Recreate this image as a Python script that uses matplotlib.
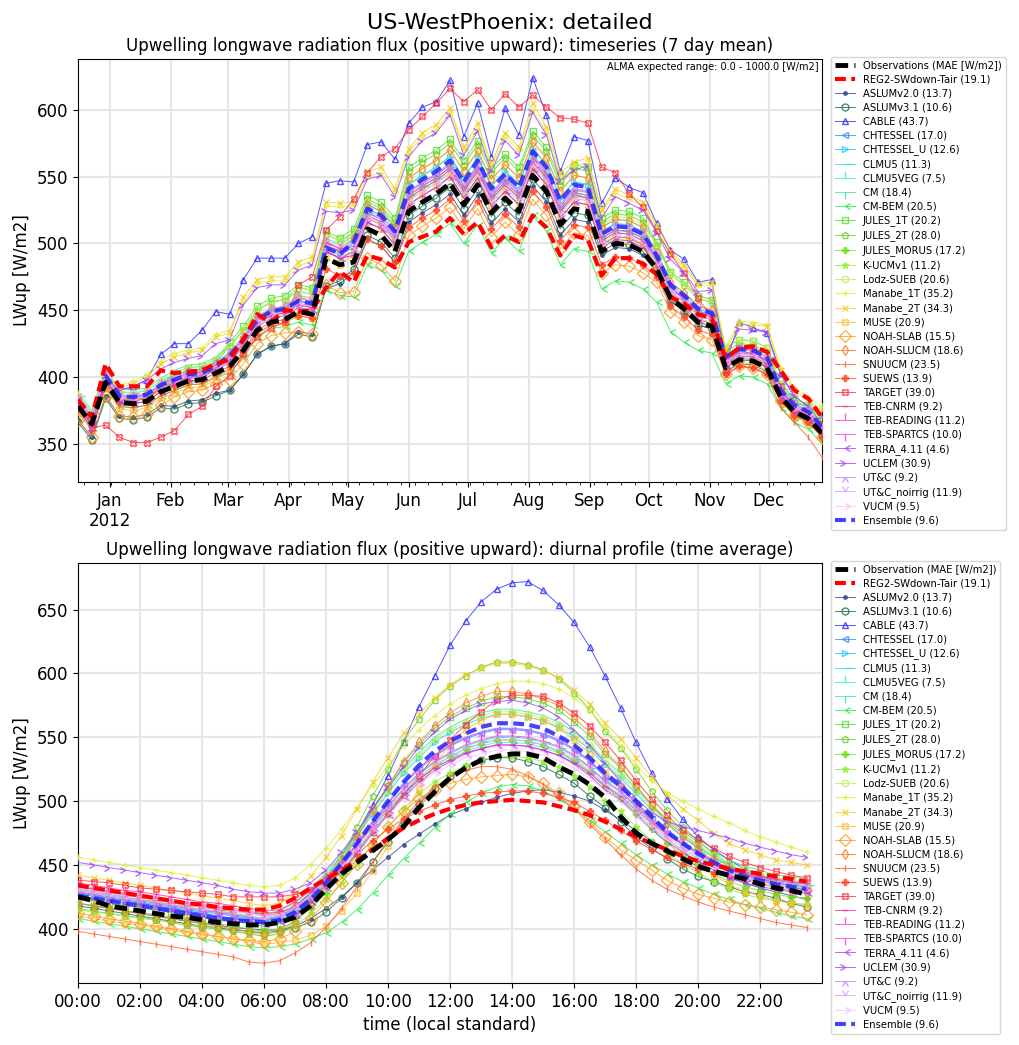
import numpy as np
import matplotlib
matplotlib.use('Agg')
import matplotlib.pyplot as plt
import matplotlib.dates as mdates
from matplotlib.ticker import FuncFormatter, MultipleLocator

# ---------------- data: 7 day mean timeseries ----------------
week_start = np.datetime64('2011-12-16')
n_weeks = 55
dates = week_start + np.arange(n_weeks) * np.timedelta64(7, 'D')

obs_ts = [378, 365, 396, 381, 380, 382, 389, 393, 397, 398, 403, 408, 420, 435, 441, 443, 449, 447, 489, 484,
          486, 511, 506, 494, 524, 531, 537, 545, 529, 544, 523, 534, 524, 551, 539, 514, 526, 524, 494, 500,
          499, 494, 481, 459, 451, 441, 438, 407, 413, 412, 407, 385, 374, 369, 358]
reg2_ts = [383, 370, 410, 393, 393, 393, 405, 403, 404, 405, 410, 413, 428, 447, 441, 450, 449, 450, 467, 479,
           471, 491, 488, 482, 501, 505, 509, 519, 507, 516, 497, 506, 501, 521, 512, 491, 506, 503, 476, 489,
           489, 485, 477, 460, 455, 447, 444, 414, 422, 423, 419, 405, 390, 384, 370]
ens_ts = [383, 370, 401, 386, 385, 387, 394, 398, 402, 403, 408, 416, 428, 443, 449, 451, 457, 455, 497, 492,
          501, 526, 521, 509, 541, 548, 554, 562, 546, 562, 541, 552, 542, 569, 557, 532, 544, 542, 507, 513,
          512, 507, 491, 469, 461, 451, 448, 415, 421, 420, 415, 390, 379, 374, 363]

aslum20_ts = [368, 355, 386, 371, 370, 372, 379, 378, 382, 383, 388, 390, 402, 417, 423, 425, 434, 432, 466, 470,
              478, 503, 498, 486, 516, 523, 529, 537, 521, 536, 515, 526, 516, 543, 531, 506, 518, 516, 491, 497,
              496, 491, 479, 457, 449, 439, 436, 407, 413, 412, 407, 385, 374, 369, 358]
aslum31_ts = [366, 353, 384, 369, 368, 370, 377, 376, 380, 381, 386, 390, 402, 417, 423, 425, 432, 430, 468, 472,
              481, 506, 501, 489, 521, 528, 534, 542, 526, 541, 520, 531, 521, 548, 536, 511, 523, 521, 494, 500,
              499, 494, 479, 457, 449, 439, 436, 404, 410, 409, 404, 383, 372, 367, 356]
cable_ts = [382, 365, 400, 390, 393, 398, 417, 425, 425, 435, 449, 447, 473, 489, 489, 489, 500, 505, 545, 547,
            546, 574, 576, 563, 590, 602, 606, 622, 580, 605, 565, 601, 581, 624, 596, 554, 580, 577, 530, 549,
            542, 538, 515, 495, 488, 471, 473, 410, 441, 437, 433, 403, 385, 378, 365]
chtessel_ts = [383, 370, 401, 386, 385, 387, 394, 401, 405, 406, 411, 418, 430, 445, 451, 453, 457, 455, 497, 492,
               501, 526, 521, 509, 539, 546, 552, 560, 544, 559, 538, 549, 539, 566, 554, 529, 541, 539, 504, 510,
               509, 504, 489, 467, 459, 449, 446, 415, 421, 420, 415, 391, 380, 375, 364]
chtessel_u_ts = [381, 368, 399, 384, 383, 385, 392, 398, 402, 403, 408, 416, 428, 443, 449, 451, 457, 455, 497, 492,
                 504, 529, 524, 512, 544, 551, 557, 565, 549, 564, 543, 554, 544, 571, 559, 534, 546, 544, 509, 515,
                 514, 509, 491, 469, 461, 451, 448, 413, 419, 418, 413, 389, 378, 373, 362]
clmu5_ts = [386, 373, 404, 389, 388, 390, 397, 401, 405, 406, 411, 418, 430, 445, 451, 453, 459, 457, 499, 494,
            498, 523, 518, 506, 536, 543, 549, 557, 541, 556, 535, 546, 536, 561, 549, 524, 536, 534, 502, 508,
            507, 502, 489, 467, 459, 449, 446, 415, 421, 420, 415, 391, 380, 375, 364]
clmu5veg_ts = [381, 368, 399, 384, 383, 385, 392, 396, 400, 401, 406, 413, 425, 440, 446, 448, 454, 452, 494, 489,
               494, 519, 514, 502, 532, 539, 545, 553, 537, 552, 531, 542, 532, 559, 547, 522, 534, 532, 499, 505,
               504, 499, 486, 464, 456, 446, 443, 411, 417, 416, 411, 388, 377, 372, 361]
cm_ts = [388, 375, 406, 391, 390, 392, 399, 405, 409, 410, 415, 423, 435, 450, 456, 458, 464, 462, 504, 499,
         506, 531, 526, 514, 544, 551, 557, 565, 549, 564, 543, 554, 544, 571, 559, 534, 546, 544, 512, 518,
         517, 512, 493, 471, 463, 453, 450, 417, 423, 422, 417, 393, 382, 377, 366]
cmbem_ts = [375, 362, 393, 378, 377, 379, 386, 390, 394, 395, 400, 403, 415, 430, 436, 438, 441, 439, 465, 461,
            460, 484, 480, 468, 494, 501, 507, 515, 500, 514, 493, 504, 494, 521, 509, 484, 496, 494, 466, 472,
            471, 466, 456, 434, 426, 420, 418, 395, 401, 400, 395, 377, 366, 361, 350]
jules1t_ts = [383, 370, 401, 386, 385, 387, 394, 403, 407, 408, 413, 426, 438, 453, 459, 461, 469, 467, 509, 504,
              511, 536, 531, 519, 557, 564, 570, 578, 562, 577, 556, 567, 557, 584, 572, 547, 559, 557, 519, 525,
              524, 519, 501, 479, 471, 461, 458, 422, 428, 427, 422, 395, 384, 379, 368]
jules2t_ts = [383, 370, 401, 386, 385, 387, 394, 401, 405, 406, 411, 423, 435, 450, 456, 458, 467, 465, 507, 502,
              508, 533, 528, 516, 554, 561, 567, 575, 559, 574, 553, 564, 554, 581, 569, 544, 556, 554, 516, 522,
              521, 516, 499, 477, 469, 459, 456, 419, 425, 424, 419, 393, 382, 377, 366]
julesmorus_ts = [381, 368, 399, 384, 383, 385, 392, 398, 402, 403, 408, 416, 428, 443, 449, 451, 459, 457, 499, 494,
                 496, 521, 516, 504, 536, 543, 549, 557, 541, 556, 535, 546, 536, 563, 551, 526, 538, 536, 504, 510,
                 509, 504, 489, 467, 459, 449, 446, 412, 418, 417, 412, 388, 377, 372, 361]
kucm_ts = [380, 367, 398, 383, 382, 384, 391, 396, 400, 401, 406, 413, 425, 440, 446, 448, 454, 452, 494, 489,
           494, 519, 514, 502, 534, 541, 547, 555, 539, 554, 533, 544, 534, 561, 549, 524, 536, 534, 499, 505,
           504, 499, 484, 462, 454, 444, 441, 409, 415, 414, 409, 385, 374, 369, 358]
lodz_ts = [386, 373, 404, 389, 388, 390, 397, 403, 407, 408, 413, 423, 435, 450, 456, 458, 467, 465, 507, 502,
           506, 531, 526, 514, 549, 556, 562, 570, 554, 569, 548, 559, 549, 576, 564, 539, 551, 549, 514, 520,
           519, 514, 499, 477, 469, 459, 456, 422, 428, 427, 422, 395, 384, 379, 368]
manabe1t_ts = [388, 362, 402, 394, 397, 402, 412, 418, 420, 422, 432, 435, 456, 470, 472, 472, 483, 487, 528, 527,
               528, 550, 553, 538, 568, 580, 585, 598, 570, 586, 557, 580, 569, 600, 583, 550, 558, 560, 524, 538,
               533, 528, 511, 492, 482, 468, 469, 422, 442, 441, 439, 407, 392, 385, 378]
manabe2t_ts = [385, 360, 400, 392, 395, 400, 410, 415, 418, 420, 430, 433, 460, 473, 475, 475, 486, 490, 531, 530,
               531, 554, 557, 541, 571, 583, 589, 601, 572, 590, 560, 583, 572, 605, 587, 553, 561, 564, 525, 541,
               536, 531, 514, 494, 484, 470, 471, 420, 440, 439, 438, 405, 390, 382, 375]
muse_ts = [373, 360, 391, 376, 375, 377, 384, 388, 392, 393, 398, 405, 417, 432, 438, 440, 446, 444, 489, 484,
           491, 516, 511, 499, 529, 536, 542, 550, 534, 549, 528, 539, 529, 556, 544, 519, 531, 529, 497, 503,
           502, 497, 481, 459, 451, 441, 438, 405, 411, 410, 405, 382, 371, 366, 355]
noahslab_ts = [368, 355, 386, 371, 370, 372, 379, 385, 389, 390, 395, 398, 410, 425, 431, 433, 434, 432, 469, 463,
               464, 489, 484, 472, 506, 513, 519, 527, 511, 526, 505, 516, 506, 533, 521, 496, 508, 506, 478, 484,
               483, 478, 471, 449, 441, 431, 428, 402, 408, 407, 402, 382, 371, 366, 355]
noahslucm_ts = [381, 368, 399, 384, 383, 385, 392, 398, 402, 403, 408, 418, 430, 445, 451, 453, 461, 459, 501, 496,
                504, 529, 524, 512, 549, 556, 562, 570, 554, 569, 548, 559, 549, 576, 564, 539, 551, 549, 512, 518,
                517, 512, 493, 471, 463, 453, 450, 415, 421, 420, 415, 390, 379, 374, 363]
snuucm_ts = [375, 362, 393, 378, 377, 379, 386, 390, 394, 395, 400, 406, 418, 433, 439, 441, 449, 447, 494, 489,
             491, 516, 511, 499, 529, 536, 542, 550, 534, 549, 528, 539, 529, 556, 544, 519, 531, 529, 499, 505,
             504, 499, 481, 459, 451, 441, 438, 402, 408, 407, 402, 377, 366, 355, 340]
suews_ts = [378, 365, 396, 381, 380, 382, 389, 393, 397, 398, 403, 408, 420, 435, 441, 443, 446, 444, 481, 476,
            478, 503, 498, 486, 512, 519, 525, 533, 517, 532, 511, 522, 512, 539, 527, 502, 514, 512, 484, 490,
            489, 484, 475, 453, 445, 435, 432, 402, 408, 407, 402, 382, 371, 366, 355]
target_ts = [383, 362, 364, 355, 351, 351, 355, 360, 372, 378, 393, 401, 417, 430, 437, 441, 469, 475, 510, 520,
             533, 553, 565, 571, 585, 595, 605, 616, 606, 615, 600, 612, 602, 611, 602, 594, 593, 590, 557, 553,
             537, 527, 509, 492, 478, 459, 445, 405, 422, 420, 410, 393, 375, 372, 365]
tebcnrm_ts = [380, 367, 398, 383, 382, 384, 391, 396, 400, 401, 406, 413, 425, 440, 446, 448, 454, 452, 494, 489,
              494, 519, 514, 502, 534, 541, 547, 555, 539, 554, 533, 544, 534, 561, 549, 524, 536, 534, 502, 508,
              507, 502, 486, 464, 456, 446, 443, 410, 416, 415, 410, 387, 376, 371, 360]
tebreading_ts = [382, 369, 400, 385, 384, 386, 393, 398, 402, 403, 408, 414, 426, 441, 447, 449, 455, 453, 499, 494,
                 496, 521, 516, 504, 536, 543, 549, 557, 541, 556, 535, 546, 536, 563, 551, 526, 538, 536, 504, 510,
                 509, 504, 488, 466, 458, 448, 445, 412, 418, 417, 412, 388, 377, 372, 361]
tebspartcs_ts = [383, 370, 401, 386, 385, 387, 394, 399, 403, 404, 409, 416, 428, 443, 449, 451, 457, 455, 501, 496,
                 498, 523, 518, 506, 538, 545, 551, 559, 543, 558, 537, 548, 538, 565, 553, 528, 540, 538, 506, 512,
                 511, 506, 489, 467, 459, 449, 446, 413, 419, 418, 413, 389, 378, 373, 362]
terra_ts = [378, 365, 396, 381, 380, 382, 389, 395, 399, 400, 405, 411, 423, 438, 444, 446, 452, 450, 494, 489,
            491, 516, 511, 499, 529, 536, 542, 550, 534, 549, 528, 539, 529, 556, 544, 519, 531, 529, 497, 503,
            502, 497, 483, 461, 453, 443, 440, 408, 414, 413, 408, 385, 374, 369, 358]
uclem_ts = [383, 358, 398, 390, 393, 398, 406, 411, 414, 416, 425, 428, 454, 467, 469, 469, 480, 484, 524, 523,
            525, 548, 551, 535, 565, 577, 583, 596, 566, 584, 554, 577, 566, 598, 581, 547, 555, 558, 519, 535,
            530, 525, 508, 488, 478, 464, 465, 416, 436, 435, 434, 401, 386, 378, 371]
utc_ts = [383, 370, 401, 386, 385, 387, 394, 399, 403, 404, 409, 416, 428, 443, 449, 451, 457, 455, 499, 494,
          496, 521, 516, 504, 536, 543, 549, 557, 541, 556, 535, 546, 536, 563, 551, 526, 538, 536, 504, 510,
          509, 504, 489, 467, 459, 449, 446, 413, 419, 418, 413, 390, 379, 374, 363]
utcnoirr_ts = [384, 371, 402, 387, 386, 388, 395, 400, 404, 405, 410, 418, 430, 445, 451, 453, 459, 457, 502, 497,
               499, 524, 519, 507, 539, 546, 552, 560, 544, 559, 538, 549, 539, 566, 554, 529, 541, 539, 506, 512,
               511, 506, 491, 469, 461, 451, 448, 415, 421, 420, 415, 391, 380, 375, 364]
vucm_ts = [382, 369, 400, 385, 384, 386, 393, 398, 402, 403, 408, 414, 426, 441, 447, 449, 455, 453, 497, 492,
           494, 519, 514, 502, 532, 539, 545, 553, 537, 552, 531, 542, 532, 559, 547, 522, 534, 532, 500, 506,
           505, 500, 486, 464, 456, 446, 443, 411, 417, 416, 411, 388, 377, 372, 361]

# ---------------- data: diurnal profile (half-hourly) ----------------
hours = np.arange(48) * 0.5

obs_dp = [425, 422, 418, 416, 414, 412, 410, 409, 407, 405, 404, 403, 403, 405, 409, 418, 431, 443, 452, 461,
          470, 480, 495, 507, 518, 526, 532, 535, 537, 537, 534, 527, 521, 513, 503, 488, 475, 467, 461, 455,
          449, 445, 442, 439, 435, 432, 430, 427]
reg2_dp = [434, 432, 430, 428, 426, 424, 422, 420, 419, 417, 416, 415, 415, 418, 424, 432, 439, 446, 453, 462,
           471, 479, 485, 490, 494, 497, 499, 500, 501, 500, 499, 496, 493, 489, 484, 478, 472, 467, 462, 457,
           453, 450, 447, 445, 443, 441, 439, 437]
ens_dp = [426, 424, 422, 420, 418, 416, 414, 412, 410, 408, 407, 406, 405, 407, 413, 423, 436, 451, 467, 484,
          500, 515, 528, 539, 547, 553, 558, 561, 561, 560, 557, 551, 544, 534, 522, 512, 500, 488, 476, 467,
          459, 452, 446, 441, 438, 435, 433, 431]

aslum20_dp = [420, 418, 416, 414, 412, 410, 408, 406, 404, 403, 401, 400, 399, 399, 402, 408, 416, 425, 436, 446,
              456, 466, 474, 482, 489, 494, 499, 503, 506, 508, 509, 507, 504, 500, 493, 485, 477, 469, 462, 455,
              449, 444, 440, 436, 432, 429, 426, 423]
aslum31_dp = [418, 416, 414, 412, 410, 408, 406, 404, 402, 401, 399, 398, 397, 398, 401, 405, 413, 424, 436, 452,
              468, 484, 498, 510, 520, 527, 532, 534, 534, 531, 527, 521, 514, 504, 495, 484, 472, 463, 455, 447,
              441, 437, 433, 429, 427, 424, 420, 417]
cable_dp = [428, 426, 424, 422, 420, 418, 416, 414, 412, 410, 408, 407, 407, 410, 417, 428, 441, 457, 475, 497,
            520, 546, 574, 598, 622, 641, 656, 666, 671, 672, 665, 654, 640, 621, 598, 573, 546, 522, 502, 486,
            472, 462, 454, 447, 442, 437, 433, 430]
chtessel_dp = [428, 426, 424, 422, 421, 419, 417, 415, 413, 412, 410, 408, 406,
               408, 414, 424, 436, 450, 466, 483, 498, 513, 525, 535, 543, 549, 553, 556, 556, 555, 552, 547, 540,
               531, 519, 510, 498, 486, 475, 466, 459, 451, 445, 441, 438, 435, 433, 432]
chtessel_u_dp = [430, 428, 426, 424, 423, 421, 419, 417, 415, 414, 412, 410, 408,
                 410, 416, 427, 440, 454, 472, 490, 506, 522, 534, 546, 554, 560, 565, 568, 568, 566, 563, 558, 550,
                 541, 528, 518, 506, 493, 482, 472, 464, 456, 450, 445, 442, 438, 437, 435]
clmu5_dp = [432, 430, 428, 426, 425, 423, 421, 419, 417, 416, 414, 412, 410,
            411, 417, 427, 438, 451, 466, 481, 495, 509, 521, 530, 537, 543, 547, 550, 550, 549, 546, 542, 535,
            526, 515, 507, 495, 484, 474, 466, 459, 452, 446, 442, 439, 437, 435, 434]
clmu5veg_dp = [428, 426, 424, 422, 421, 419, 417, 415, 413, 412, 410, 408, 406,
               407, 413, 423, 434, 447, 462, 477, 491, 505, 517, 526, 533, 539, 543, 546, 546, 545, 542, 538, 531,
               522, 511, 503, 491, 480, 470, 462, 455, 448, 442, 438, 435, 433, 431, 430]
cm_dp = [434, 432, 430, 428, 427, 425, 423, 421, 419, 418, 416, 414, 412,
         414, 420, 431, 444, 458, 476, 494, 510, 526, 538, 550, 558, 564, 569, 572, 572, 570, 567, 562, 554,
         545, 532, 522, 510, 497, 486, 476, 468, 460, 454, 449, 446, 442, 441, 439]
cmbem_dp = [408, 406, 404, 402, 400, 398, 396, 394, 392, 390, 388, 386, 385, 386, 388, 392, 397, 405, 415, 428,
            442, 455, 467, 479, 490, 499, 506, 511, 513, 512, 508, 502, 494, 485, 476, 467, 458, 450, 443, 437,
            432, 427, 423, 419, 416, 413, 410, 408]
jules1t_dp = [424, 422, 420, 418, 417, 415, 413, 411, 409, 408, 406, 404, 402,
              404, 411, 424, 438, 454, 474, 494, 512, 530, 544, 557, 566, 573, 578, 582, 582, 580, 577, 571, 562,
              551, 537, 526, 512, 497, 485, 474, 465, 456, 449, 443, 440, 436, 434, 433]
jules2t_dp = [416, 414, 412, 410, 409, 407, 405, 403, 401, 400, 398, 396, 394,
              396, 405, 420, 437, 456, 480, 504, 525, 547, 564, 579, 590, 598, 605, 609, 609, 607, 603, 596, 585,
              572, 555, 542, 525, 508, 493, 480, 469, 459, 450, 443, 439, 435, 433, 431]
julesmorus_dp = [420, 418, 416, 414, 413, 411, 409, 407, 405, 404, 402, 400, 398,
                 400, 406, 416, 428, 442, 458, 475, 490, 505, 517, 527, 535, 541, 545, 548, 548, 547, 544, 539, 532,
                 523, 511, 502, 490, 478, 467, 458, 451, 443, 437, 433, 430, 427, 425, 424]
kucm_dp = [415, 413, 412, 410, 408, 407, 405, 403, 402, 400, 398, 397, 395,
           396, 402, 412, 423, 436, 451, 466, 480, 494, 506, 515, 522, 528, 532, 535, 535, 534, 531, 527, 520,
           511, 500, 492, 480, 469, 459, 451, 444, 437, 431, 427, 424, 422, 420, 419]
lodz_dp = [430, 428, 427, 425, 423, 422, 420, 418, 417, 415, 413, 412, 410,
           412, 418, 429, 442, 456, 474, 492, 508, 524, 536, 548, 556, 562, 567, 570, 570, 568, 565, 560, 552,
           543, 530, 520, 508, 495, 484, 474, 466, 458, 452, 447, 444, 440, 439, 437]
manabe1t_dp = [456, 454, 452, 450, 448, 446, 444, 442, 440, 438, 436, 434, 433, 434, 440, 450, 463, 478, 495, 512,
               528, 543, 556, 567, 576, 583, 588, 592, 594, 594, 592, 588, 581, 571, 558, 543, 528, 516, 507, 500,
               494, 488, 483, 477, 472, 468, 464, 460]
manabe2t_dp = [442, 440, 438, 436, 434, 432, 430, 428, 426, 424, 422, 420, 418,
               420, 428, 441, 456, 473, 494, 515, 534, 553, 568, 581, 591, 599, 604, 608, 608, 606, 602, 597, 587,
               576, 561, 549, 534, 519, 505, 494, 485, 475, 467, 462, 458, 454, 452, 450]
muse_dp = [410, 408, 406, 404, 403, 401, 399, 397, 395, 394, 392, 390, 388,
           389, 391, 395, 402, 414, 428, 445, 465, 488, 510, 528, 545, 556, 563, 568, 568, 566, 563, 557, 548,
           537, 523, 512, 498, 483, 471, 460, 451, 442, 435, 429, 426, 422, 420, 419]
noahslab_dp = [412, 410, 408, 406, 404, 402, 400, 398, 396, 394, 392, 391, 390, 392, 398, 408, 421, 436, 451, 466,
               480, 492, 502, 509, 514, 517, 519, 520, 521, 519, 514, 506, 496, 484, 472, 462, 454, 446, 438, 432,
               427, 424, 421, 419, 417, 415, 413, 411]
noahslucm_dp = [420, 418, 416, 414, 412, 410, 408, 406, 404, 402, 400, 398, 396,
                398, 406, 419, 434, 451, 472, 493, 512, 531, 546, 559, 569, 577, 582, 586, 586, 584, 580, 575, 565,
                554, 539, 527, 512, 497, 483, 472, 463, 453, 445, 440, 436, 432, 430, 428]
snuucm_dp = [398, 396, 394, 392, 390, 388, 386, 384, 382, 380, 378, 374, 373, 375, 381, 389, 401, 416, 433, 452,
             470, 486, 500, 511, 519, 524, 527, 527, 525, 520, 513, 504, 494, 482, 470, 458, 447, 438, 431, 426,
             421, 417, 414, 411, 408, 405, 403, 401]
suews_dp = [433, 431, 429, 427, 425, 423, 421, 419, 417, 415, 414, 413, 412, 413, 417, 424, 434, 446, 458, 469,
            478, 486, 492, 497, 501, 504, 506, 507, 508, 508, 506, 503, 499, 492, 485, 477, 469, 462, 456, 451,
            447, 444, 441, 439, 437, 435, 433, 432]
target_dp = [438, 437, 436, 434, 432, 431, 430, 429, 428, 427, 425, 425, 425, 425, 427, 430, 438, 450, 462, 476,
             490, 505, 520, 535, 548, 560, 570, 579, 583, 583, 582, 577, 569, 559, 546, 532, 516, 502, 489, 477,
             470, 463, 457, 452, 448, 445, 442, 440]
tebcnrm_dp = [436, 434, 432, 430, 429, 427, 425, 423, 421, 420, 418, 416, 414,
              415, 421, 430, 440, 452, 466, 480, 493, 506, 517, 526, 532, 538, 541, 544, 544, 543, 540, 536, 530,
              522, 512, 504, 493, 483, 474, 466, 460, 453, 448, 444, 441, 439, 437, 436]
tebreading_dp = [433, 431, 429, 427, 426, 424, 422, 420, 418, 417, 415, 413, 411,
                 412, 418, 428, 439, 452, 467, 482, 496, 510, 522, 531, 538, 544, 548, 551, 551, 550, 547, 543, 536,
                 527, 516, 508, 496, 485, 475, 467, 460, 453, 447, 443, 440, 438, 436, 435]
tebspartcs_dp = [429, 427, 425, 423, 422, 420, 418, 416, 414, 413, 411, 409, 407,
                 409, 415, 425, 437, 451, 467, 484, 499, 514, 526, 536, 544, 550, 554, 557, 557, 556, 553, 548, 541,
                 532, 520, 511, 499, 487, 476, 467, 460, 452, 446, 442, 439, 436, 434, 433]
terra_dp = [426, 424, 422, 420, 419, 417, 415, 413, 411, 410, 408, 406, 404,
            405, 411, 421, 432, 445, 460, 475, 489, 503, 515, 524, 531, 537, 541, 544, 544, 543, 540, 536, 529,
            520, 509, 501, 489, 478, 468, 460, 453, 446, 440, 436, 433, 431, 429, 428]
uclem_dp = [452, 450, 448, 446, 444, 442, 440, 438, 436, 434, 431, 429, 428, 428, 431, 436, 446, 460, 476, 494,
            511, 527, 542, 554, 564, 571, 576, 578, 579, 577, 573, 566, 556, 544, 530, 515, 502, 491, 484, 480,
            477, 474, 471, 467, 464, 461, 458, 456]
utc_dp = [431, 429, 427, 425, 423, 421, 419, 417, 415, 413, 411, 409, 407,
          409, 415, 425, 437, 451, 467, 484, 499, 514, 526, 536, 544, 550, 554, 557, 557, 556, 553, 548, 541,
          532, 520, 511, 499, 487, 476, 467, 460, 452, 446, 442, 439, 436, 434, 433]
utcnoirr_dp = [430, 428, 426, 424, 423, 421, 419, 417, 415, 414, 412, 410, 408,
               409, 415, 425, 436, 449, 464, 479, 493, 507, 519, 528, 535, 541, 545, 548, 548, 547, 544, 540, 533,
               524, 513, 505, 493, 482, 472, 464, 457, 450, 444, 440, 437, 435, 433, 432]
vucm_dp = [432, 430, 428, 426, 425, 423, 421, 419, 417, 416, 414, 412, 410,
           411, 417, 426, 436, 448, 462, 476, 489, 502, 513, 522, 528, 534, 537, 540, 540, 539, 536, 532, 526,
           518, 508, 500, 489, 479, 470, 462, 456, 449, 444, 440, 437, 435, 433, 432]

model_names = ['ASLUMv2.0', 'ASLUMv3.1', 'CABLE', 'CHTESSEL', 'CHTESSEL_U', 'CLMU5', 'CLMU5VEG', 'CM',
               'CM-BEM', 'JULES_1T', 'JULES_2T', 'JULES_MORUS', 'K-UCMv1', 'Lodz-SUEB', 'Manabe_1T',
               'Manabe_2T', 'MUSE', 'NOAH-SLAB', 'NOAH-SLUCM', 'SNUUCM', 'SUEWS', 'TARGET', 'TEB-CNRM',
               'TEB-READING', 'TEB-SPARTCS', 'TERRA_4.11', 'UCLEM', 'UT&C', 'UT&C_noirrig', 'VUCM']
model_mae = [13.7, 10.6, 43.7, 17.0, 12.6, 11.3, 7.5, 18.4, 20.5, 20.2, 28.0, 17.2, 11.2, 20.6, 35.2,
             34.3, 20.9, 15.5, 18.6, 23.5, 13.9, 39.0, 9.2, 11.2, 10.0, 4.6, 30.9, 9.2, 11.9, 9.5]
reg2_mae = 19.1
ens_mae = 9.6

model_ts = [aslum20_ts, aslum31_ts, cable_ts, chtessel_ts, chtessel_u_ts, clmu5_ts, clmu5veg_ts, cm_ts,
            cmbem_ts, jules1t_ts, jules2t_ts, julesmorus_ts, kucm_ts, lodz_ts, manabe1t_ts, manabe2t_ts,
            muse_ts, noahslab_ts, noahslucm_ts, snuucm_ts, suews_ts, target_ts, tebcnrm_ts, tebreading_ts,
            tebspartcs_ts, terra_ts, uclem_ts, utc_ts, utcnoirr_ts, vucm_ts]
model_dp = [aslum20_dp, aslum31_dp, cable_dp, chtessel_dp, chtessel_u_dp, clmu5_dp, clmu5veg_dp, cm_dp,
            cmbem_dp, jules1t_dp, jules2t_dp, julesmorus_dp, kucm_dp, lodz_dp, manabe1t_dp, manabe2t_dp,
            muse_dp, noahslab_dp, noahslucm_dp, snuucm_dp, suews_dp, target_dp, tebcnrm_dp, tebreading_dp,
            tebspartcs_dp, terra_dp, uclem_dp, utc_dp, utcnoirr_dp, vucm_dp]

# ---------------- style ----------------
colors = ['#34468c', '#1f6b4a', '#2b2bff', '#2f8cff', '#1ec8ff', '#22e0e6', '#2ff0c8', '#2ee89a',
          '#22ee44', '#4fe02a', '#6ad01e', '#70e020', '#90f030', '#b8f050', '#dcf030',
          '#f5cc1e', '#ffbb2a', '#ff9a1e', '#ff7f2a', '#ff5a2a', '#ff4a2a', '#ff2a3a', '#ff2a8a',
          '#ff3ad0', '#f03af0', '#b03aff', '#a040ff', '#c080ff', '#d8a0ff', '#ffb8ff']
markers = ['.', 'o', '^', '<', '>', 1, 2, 3, 4, 's', 'p', 'P', '*', 'h', '+', 'x', 'X', 'D', 'd', '|',
           'P', 'X', '_', 2, 3, 4, 5, 6, 7, 9]
filled = {'.', '*', 'P'}


def draw_panel(ax, x, obs, reg2, models, ens, obs_label):
    ax.plot(x, obs, color='black', lw=3.5, ls=(0, (2.6, 1.3)), zorder=10,
            label=obs_label + ' (MAE [W/m2])')
    ax.plot(x, reg2, color='red', lw=3, ls=(0, (2.6, 1.3)), zorder=9,
            label='REG2-SWdown-Tair (%.1f)' % reg2_mae)
    for name, mae, y, c, m in zip(model_names, model_mae, models, colors, markers):
        fs = 'full' if m in filled else 'none'
        ms = 6 if m == 'D' else 5
        ax.plot(x, y, color=c, lw=0.7, marker=m, ms=ms, fillstyle=fs, mew=1.0, alpha=0.8,
                label='%s (%.1f)' % (name, mae), zorder=3)
    ax.plot(x, ens, color='#2222ff', lw=3, ls=(0, (2.6, 1.3)), alpha=0.85, zorder=8,
            label='Ensemble (%.1f)' % ens_mae)
    ax.grid(True, color='0.9', lw=1.5)
    ax.set_axisbelow(True)
    ax.set_ylabel('LWup [W/m2]', fontsize=12)
    ax.tick_params(labelsize=12)
    ax.legend(loc='upper left', bbox_to_anchor=(1.012, 1.006), fontsize=7.2, labelspacing=0.4,
              borderaxespad=0.0, handletextpad=0.8)


fig = plt.figure(figsize=(10.2, 10.45), dpi=100)
fig.suptitle('US-WestPhoenix: detailed', fontsize=16, y=0.988)

ax1 = fig.add_axes([0.0765, 0.5388, 0.7294, 0.4047])
draw_panel(ax1, dates, obs_ts, reg2_ts, model_ts, ens_ts, 'Observations')
ax1.set_title('Upwelling longwave radiation flux (positive upward): timeseries (7 day mean)', fontsize=12)
ax1.set_xlim(dates[0], dates[-1])
ax1.set_ylim(321.5, 638)
ax1.yaxis.set_major_locator(MultipleLocator(50))
ax1.xaxis.set_major_locator(mdates.MonthLocator())
ax1.xaxis.set_minor_locator(mdates.WeekdayLocator(byweekday=0))
ax1.xaxis.set_major_formatter(FuncFormatter(
    lambda v, p: mdates.num2date(v).strftime('%b\n%Y') if mdates.num2date(v).month == 1
    else mdates.num2date(v).strftime('%b')))
ax1.text(0.996, 0.992, 'ALMA expected range: 0.0 - 1000.0 [W/m2]', transform=ax1.transAxes,
         ha='right', va='top', fontsize=7)

ax2 = fig.add_axes([0.0765, 0.0593, 0.7294, 0.4019])
draw_panel(ax2, hours, obs_dp, reg2_dp, model_dp, ens_dp, 'Observation')
ax2.set_title('Upwelling longwave radiation flux (positive upward): diurnal profile (time average)',
              fontsize=12)
ax2.set_xlim(0, 24)
ax2.set_ylim(357.5, 686.5)
ax2.yaxis.set_major_locator(MultipleLocator(50))
ax2.set_xticks(np.arange(0, 24, 2))
ax2.set_xticklabels(['%02d:00' % h for h in range(0, 24, 2)])
ax2.set_xlabel('time (local standard)', fontsize=12)

fig.savefig('out.png', dpi=100)
